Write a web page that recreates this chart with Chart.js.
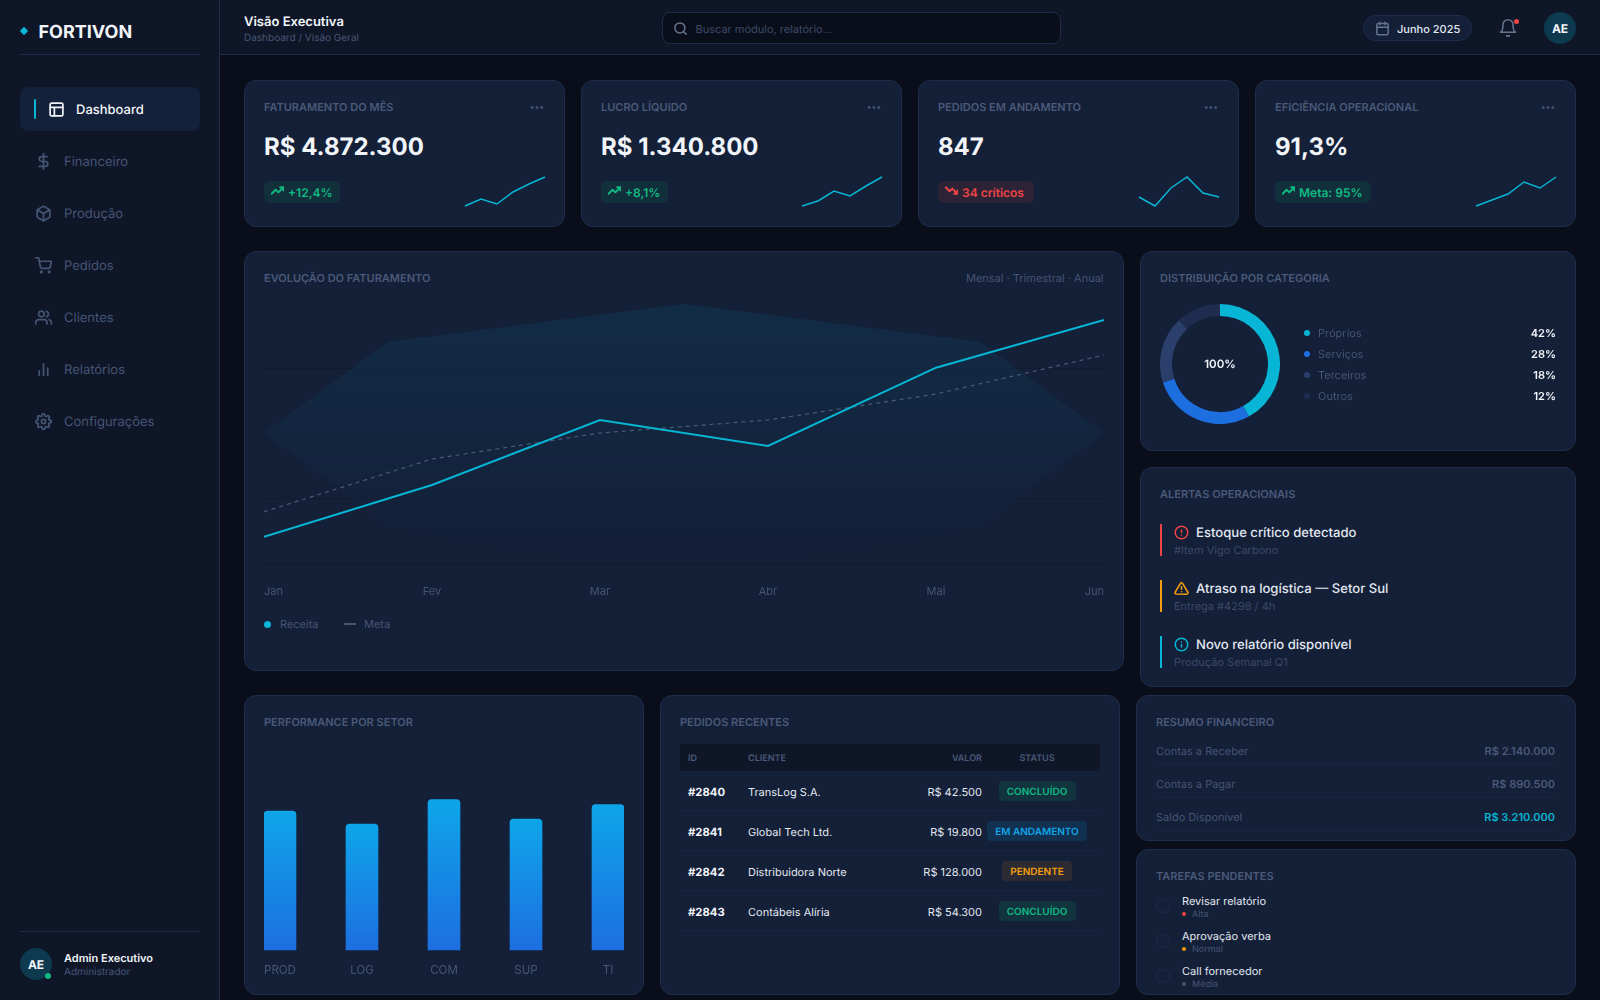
<!DOCTYPE html>
<html lang="pt-BR">
<head>
<meta charset="utf-8">
<title>Fortivon - Visão Executiva</title>
<script src="https://cdn.jsdelivr.net/npm/chart.js@4/dist/chart.umd.js"></script>
<style>
  html, body { margin: 0; width: 1600px; height: 1000px; overflow: hidden; background: #0a0e1a; font-family: Inter, sans-serif; text-rendering: geometricPrecision; }
  #page { position: absolute; left: 0; top: 0; width: 1600px; height: 1000px; overflow: hidden; }
  .box { position: absolute; box-sizing: border-box; }
  .card { background: #141f38; border: 1px solid #1e2d4a; border-radius: 12px; }
  .t { position: absolute; white-space: nowrap; line-height: 1; }
  canvas { position: absolute; display: block; }
  svg { position: absolute; fill: none; stroke-linecap: round; stroke-linejoin: round; }
</style>
</head>
<body>
<div id="page"></div>
<script>
// chart data
const months = ["Jan", "Fev", "Mar", "Abr", "Mai", "Jun"]
const revenue = [526, 1560, 2860, 2340, 3906, 4860]
const target = [1026, 2080, 2600, 2860, 3380, 4160]
const bandX = [0, 0.738, 2.5, 4.262, 5, 4.262, 3.38, 2.5, 1.62, 0.738]
const bandY = [2600, 4426, 5180, 4426, 2600, 760, 240, 20, 240, 760]

const sparkFaturamento = [0, 7, 2, 14, 22, 29]
const sparkLucro = [0, 5, 15, 10, 20, 29]
const sparkPedidos = [9, 0, 18, 29, 13, 9]
const sparkEficiencia = [0, 6, 12, 24, 18, 29]

const donutLabels = ["Próprios", "Serviços", "Terceiros", "Outros"]
const donutValues = [42, 28, 18, 12]
const donutColors = ["#06b6d4", "#1d6fe0", "#2a3f6b", "#1e2d4f"]

const sectors = ["PROD", "LOG", "COM", "SUP", "TI"]
const sectorValues = [85, 77, 92, 80, 89]

const orderIds = ["#2840", "#2841", "#2842", "#2843"]
const orderClients = ["TransLog S.A.", "Global Tech Ltd.", "Distribuidora Norte", "Contábeis Alíria"]
const orderValues = ["R$ 42.500", "R$ 19.800", "R$ 128.000", "R$ 54.300"]
const orderStatus = ["CONCLUÍDO", "EM ANDAMENTO", "PENDENTE", "CONCLUÍDO"]

const CYAN = "#06b6d4", GREEN = "#10b981", RED = "#ef4444", AMBER = "#f59e0b"
const TITLE = "#4a5a78", MUTED = "#455574", FAINT = "#3a4a68", WHITE = "#f1f5f9"

const page = document.getElementById("page")

function box(x, y, w, h, css, cls) {
  const el = document.createElement("div")
  el.className = "box " + (cls || "")
  el.style.cssText = `left:${x}px;top:${y}px;width:${w}px;height:${h}px;${css || ""}`
  page.appendChild(el)
  return el
}

// y is the vertical centre of the text; anchor is l, r or c
function put(x, y, str, css, anchor) {
  const el = document.createElement("span")
  el.className = "t"
  const tx = anchor === "r" ? "-100%" : anchor === "c" ? "-50%" : "0"
  el.style.cssText = `left:${x}px;top:${y}px;transform:translate(${tx},-50%);${css || ""}`
  el.textContent = str
  page.appendChild(el)
  return el
}

function icon(x, y, size, color, body, sw) {
  const ns = "http://www.w3.org/2000/svg"
  const el = document.createElementNS(ns, "svg")
  el.setAttribute("viewBox", "0 0 24 24")
  el.setAttribute("width", size)
  el.setAttribute("height", size)
  el.style.cssText = `left:${x - size / 2}px;top:${y - size / 2}px;stroke:${color};stroke-width:${sw || 2.4}`
  el.innerHTML = body
  page.appendChild(el)
}

function addCanvas(x, y, w, h) {
  const c = document.createElement("canvas")
  c.width = w
  c.height = h
  c.style.cssText = `left:${x}px;top:${y}px;width:${w}px;height:${h}px`
  page.appendChild(c)
  return c
}

const ICONS = {
  layout: '<rect x="3" y="3" width="18" height="18" rx="2"/><path d="M3 9h18M9 21V9"/>',
  dollar: '<path d="M12 1v22M17 5H9.5a3.5 3.5 0 0 0 0 7h5a3.5 3.5 0 0 1 0 7H6"/>',
  box: '<path d="M21 16V8a2 2 0 0 0-1-1.73l-7-4a2 2 0 0 0-2 0l-7 4A2 2 0 0 0 3 8v8a2 2 0 0 0 1 1.73l7 4a2 2 0 0 0 2 0l7-4A2 2 0 0 0 21 16z"/><path d="M3.27 6.96 12 12.01l8.73-5.05M12 22.08V12"/>',
  cart: '<circle cx="9" cy="21" r="1"/><circle cx="20" cy="21" r="1"/><path d="M1 1h4l2.68 13.39a2 2 0 0 0 2 1.61h9.72a2 2 0 0 0 2-1.61L23 6H6"/>',
  users: '<path d="M17 21v-2a4 4 0 0 0-4-4H5a4 4 0 0 0-4 4v2"/><circle cx="9" cy="7" r="4"/><path d="M23 21v-2a4 4 0 0 0-3-3.87M16 3.13a4 4 0 0 1 0 7.75"/>',
  bars: '<path d="M12 20V4M18 20V10M6 20v-6"/>',
  gear: '<circle cx="12" cy="12" r="3"/><path d="M19.4 15a1.65 1.65 0 0 0 .33 1.82l.06.06a2 2 0 0 1 0 2.83 2 2 0 0 1-2.83 0l-.06-.06a1.65 1.65 0 0 0-1.82-.33 1.65 1.65 0 0 0-1 1.51V21a2 2 0 0 1-2 2 2 2 0 0 1-2-2v-.09A1.65 1.65 0 0 0 9 19.4a1.65 1.65 0 0 0-1.82.33l-.06.06a2 2 0 0 1-2.83 0 2 2 0 0 1 0-2.83l.06-.06a1.65 1.65 0 0 0 .33-1.82 1.65 1.65 0 0 0-1.51-1H3a2 2 0 0 1-2-2 2 2 0 0 1 2-2h.09A1.65 1.65 0 0 0 4.6 9a1.65 1.65 0 0 0-.33-1.82l-.06-.06a2 2 0 0 1 0-2.83 2 2 0 0 1 2.83 0l.06.06a1.65 1.65 0 0 0 1.82.33H9a1.65 1.65 0 0 0 1-1.51V3a2 2 0 0 1 2-2 2 2 0 0 1 2 2v.09a1.65 1.65 0 0 0 1 1.51 1.65 1.65 0 0 0 1.82-.33l.06-.06a2 2 0 0 1 2.83 0 2 2 0 0 1 0 2.83l-.06.06a1.65 1.65 0 0 0-.33 1.82V9a1.65 1.65 0 0 0 1.51 1H21a2 2 0 0 1 2 2 2 2 0 0 1-2 2h-.09a1.65 1.65 0 0 0-1.51 1z"/>',
  search: '<circle cx="11" cy="11" r="8"/><path d="M21 21l-4.35-4.35"/>',
  calendar: '<rect x="3" y="4" width="18" height="18" rx="2"/><path d="M16 2v4M8 2v4M3 10h18"/>',
  bell: '<path d="M18 8A6 6 0 0 0 6 8c0 7-3 9-3 9h18s-3-2-3-9M13.73 21a2 2 0 0 1-3.46 0"/>',
  up: '<path d="M23 6l-9.5 9.5-5-5L1 18M17 6h6v6"/>',
  down: '<path d="M23 18l-9.5-9.5-5 5L1 6M17 18h6v-6"/>',
  alert: '<circle cx="12" cy="12" r="10"/><path d="M12 8v4M12 16h.01"/>',
  warn: '<path d="M10.29 3.86 1.82 18a2 2 0 0 0 1.71 3h16.94a2 2 0 0 0 1.71-3L13.71 3.86a2 2 0 0 0-3.42 0z"/><path d="M12 9v4M12 17h.01"/>',
  info: '<circle cx="12" cy="12" r="10"/><path d="M12 16v-4M12 8h.01"/>'
}

// ---- shell: sidebar and top bar
box(0, 0, 220, 1000, "background:#0f1628;border-right:1px solid #1e2d4a")
box(220, 0, 1380, 55, "background:#0f1628;border-bottom:1px solid #1e2d4a")
box(20.5, 28, 6, 6, `background:${CYAN};transform:rotate(45deg);border-radius:1px`)
put(38.5, 32.5, "FORTIVON", `font-size:18px;font-weight:700;color:${WHITE}`)
box(20, 54, 180, 1, "background:#1e2d4a")

box(20, 87, 180, 44, "background:#14213b;border-radius:8px")
box(34, 99, 2, 20, `background:${CYAN};border-radius:1px`)
icon(56, 109, 17, WHITE, ICONS.layout)
put(76, 109.5, "Dashboard", `font-size:13px;font-weight:500;color:${WHITE}`)

const navItems = ["Financeiro", "Produção", "Pedidos", "Clientes", "Relatórios", "Configurações"]
const navIcons = ["dollar", "box", "cart", "users", "bars", "gear"]
navItems.forEach((label, i) => {
  const y = 161 + i * 52
  icon(43.5, y, 17, MUTED, ICONS[navIcons[i]])
  put(64, y + 0.5, label, `font-size:13px;color:${MUTED}`)
})

box(20, 931, 180, 1, "background:#1e2d4a")
box(20, 948, 32, 32, "background:#0e3a50;border-radius:50%")
put(36, 964.5, "AE", `font-size:12px;font-weight:700;color:${WHITE}`, "c")
box(45, 973, 6, 6, `background:${GREEN};border-radius:50%`)
put(64, 957.5, "Admin Executivo", `font-size:11px;font-weight:600;color:${WHITE}`)
put(64, 972, "Administrador", `font-size:10px;color:${MUTED}`)

put(244, 22, "Visão Executiva", `font-size:13px;font-weight:600;color:${WHITE}`)
put(244, 37.5, "Dashboard / Visão Geral", `font-size:10px;color:${MUTED}`)

box(662, 12, 399, 32, "background:#0a0e1a;border:1px solid #1e2d4a;border-radius:8px")
icon(680, 28, 15, "#64748b", ICONS.search)
put(695.5, 28.5, "Buscar módulo, relatório...", `font-size:11px;color:${FAINT}`)

box(1363, 15, 109, 26, "background:#141f38;border:1px solid #1e2d4a;border-radius:13px")
icon(1382, 28, 15, "#64748b", ICONS.calendar)
put(1397, 28.5, "Junho 2025", "font-size:11px;font-weight:500;color:#e2e8f0")
icon(1508, 28, 20, "#64748b", ICONS.bell, 1.8)
box(1513.5, 18.5, 5, 5, `background:${RED};border-radius:50%`)
box(1544, 12, 32, 32, "background:#0e3a50;border-radius:50%")
put(1560, 28.5, "AE", `font-size:12px;font-weight:700;color:${WHITE}`, "c")

const titleCss = `font-size:11px;font-weight:600;color:${TITLE}`

// ---- KPI cards
const kpiTitles = ["FATURAMENTO DO MÊS", "LUCRO LÍQUIDO", "PEDIDOS EM ANDAMENTO", "EFICIÊNCIA OPERACIONAL"]
const kpiValues = ["R$ 4.872.300", "R$ 1.340.800", "847", "91,3%"]
const kpiBadges = ["+12,4%", "+8,1%", "34 críticos", "Meta: 95%"]
const kpiBadgeWidths = [76, 67, 96, 96]
const kpiSparks = [sparkFaturamento, sparkLucro, sparkPedidos, sparkEficiencia]
const sparkCanvases = []

kpiTitles.forEach((title, i) => {
  const x = 244 + i * 337
  const bad = i === 2
  const color = bad ? RED : GREEN
  box(x, 80, 321, 147, "", "card")
  put(x + 20, 107, title, titleCss)
  put(x + 300, 108, "•••", "font-size:8.5px;color:#4a5a78", "r")
  put(x + 20, 147, kpiValues[i], `font-size:24px;font-weight:700;color:${WHITE}`)
  box(x + 20, 181, kpiBadgeWidths[i], 22, `background:${bad ? "#2d2336" : "#12303c"};border-radius:6px`)
  icon(x + 33, 190.5, 13, color, bad ? ICONS.down : ICONS.up, 3.6)
  put(x + 44, 192.5, kpiBadges[i], `font-size:12px;font-weight:600;color:${color}`)
  sparkCanvases.push(addCanvas(x + 217, 172, 88, 38))
})

// ---- revenue panel
box(244, 251, 880, 420, "", "card")
put(264, 278, "EVOLUÇÃO DO FATURAMENTO", titleCss)
put(1103.5, 278, "Mensal · Trimestral · Anual", `font-size:11px;color:${MUTED}`, "r")
box(264, 621, 7, 7, `background:${CYAN};border-radius:50%`)
put(280, 623.5, "Receita", `font-size:11px;color:${MUTED}`)
box(344, 623, 12, 2, "background:#475569")
put(364, 623.5, "Meta", `font-size:11px;color:${MUTED}`)
const lineCanvas = addCanvas(264, 295, 840, 306)

// ---- donut panel
box(1140, 251, 436, 200, "", "card")
put(1160, 278, "DISTRIBUIÇÃO POR CATEGORIA", titleCss)
const donutCanvas = addCanvas(1160, 304, 120, 120)
put(1220, 365, "100%", `font-size:11.5px;font-weight:600;color:${WHITE}`, "c")
donutLabels.forEach((label, i) => {
  const y = 332 + i * 21
  box(1304, y - 2, 6, 6, `background:${donutColors[i]};border-radius:50%`)
  put(1318, y + 0.5, label, `font-size:11px;color:${MUTED}`)
  put(1556, y + 0.5, donutValues[i] + "%", `font-size:11px;font-weight:600;color:${WHITE}`, "r")
})

// ---- alerts
box(1140, 467, 436, 220, "", "card")
put(1160, 494, "ALERTAS OPERACIONAIS", titleCss)
const alertTitles = ["Estoque crítico detectado", "Atraso na logística — Setor Sul", "Novo relatório disponível"]
const alertSubs = ["#Item Vigo Carbono", "Entrega #4298 / 4h", "Produção Semanal Q1"]
const alertColors = [RED, AMBER, CYAN]
const alertIcons = ["alert", "warn", "info"]
alertTitles.forEach((title, i) => {
  const y = 524 + i * 56
  box(1160, y, 2, 32, `background:${alertColors[i]}`)
  icon(1181, y + 8.5, 15, alertColors[i], ICONS[alertIcons[i]])
  put(1196, y + 10, title, "font-size:13.1px;font-weight:500;color:#e2e8f0")
  put(1174, y + 26, alertSubs[i], `font-size:11px;color:${FAINT}`)
})

// ---- sector bars
box(244, 695, 400, 300, "", "card")
put(264, 722, "PERFORMANCE POR SETOR", titleCss)
const barCanvas = addCanvas(264, 780, 360, 200)

// ---- orders table
box(660, 695, 460, 300, "", "card")
put(680, 722, "PEDIDOS RECENTES", titleCss)
box(680, 744, 420, 27, "background:#0f1628")
const headCss = `font-size:9px;font-weight:600;color:${TITLE}`
put(688, 757.5, "ID", headCss)
put(748, 757.5, "CLIENTE", headCss)
put(982, 757.5, "VALOR", headCss, "r")
put(1037, 757.5, "STATUS", headCss, "c")
const statusStyle = {
  "CONCLUÍDO": { bg: "#12343f", fg: GREEN, w: 77 },
  "EM ANDAMENTO": { bg: "#12304f", fg: "#0ea5e9", w: 100 },
  "PENDENTE": { bg: "#2c2b33", fg: AMBER, w: 70 }
}
orderIds.forEach((id, i) => {
  const y = 791 + i * 40
  box(680, y + 19, 420, 1, "background:#1a2640")
  put(688, y + 1.5, id, `font-size:11.3px;font-weight:700;color:${WHITE}`)
  put(748, y + 1, orderClients[i], "font-size:11px;color:#e2e8f0")
  put(982, y + 1, orderValues[i], "font-size:11px;color:#e2e8f0", "r")
  const st = statusStyle[orderStatus[i]]
  box(1037 - st.w / 2, y - 10, st.w, 20, `background:${st.bg};border-radius:4px`)
  put(1037, y + 0.5, orderStatus[i], `font-size:10px;font-weight:600;color:${st.fg}`, "c")
})

// ---- financial summary
box(1136, 695, 440, 146, "", "card")
put(1156, 722, "RESUMO FINANCEIRO", titleCss)
const summaryLabels = ["Contas a Receber", "Contas a Pagar", "Saldo Disponível"]
const summaryValues = ["R$ 2.140.000", "R$ 890.500", "R$ 3.210.000"]
summaryLabels.forEach((label, i) => {
  const y = 751 + i * 33
  put(1156, y - 0.5, label, `font-size:11px;color:${MUTED}`)
  put(1555, y - 0.5, summaryValues[i], `font-size:11px;font-weight:600;color:${i === 2 ? CYAN : "#4a5a78"}`, "r")
  box(1156, y + 13, 399, 1, "background:#1a2640")
})

// ---- tasks
box(1136, 849, 440, 146, "", "card")
put(1156, 876, "TAREFAS PENDENTES", titleCss)
const taskLabels = ["Revisar relatório", "Aprovação verba", "Call fornecedor"]
const taskPriority = ["Alta", "Normal", "Média"]
const taskColors = [RED, AMBER, "#475569"]
taskLabels.forEach((label, i) => {
  const y = 901 + i * 35
  box(1156, y - 2, 14, 14, "border:1px solid #1e2d4a;border-radius:50%")
  put(1182, y - 0.5, label, "font-size:11px;color:#e2e8f0")
  box(1182, y + 11, 4, 4, `background:${taskColors[i]};border-radius:50%`)
  put(1192, y + 12.5, taskPriority[i], `font-size:9px;color:${MUTED}`)
})

// ---- charts
Chart.defaults.animation = false
Chart.defaults.responsive = false
Chart.defaults.font.family = "Inter, sans-serif"
Chart.defaults.plugins.legend.display = false
Chart.defaults.plugins.tooltip.enabled = false

kpiSparks.forEach((values, i) => {
  new Chart(sparkCanvases[i], {
    type: "line",
    data: {
      labels: months,
      datasets: [{ data: values, borderColor: CYAN, borderWidth: 1.5, pointRadius: 0, tension: 0, clip: false }]
    },
    options: {
      layout: { padding: { left: 4, right: 4, top: 4, bottom: 4 } },
      scales: {
        x: { display: false },
        y: { display: false, min: 0, max: 30 }
      }
    }
  })
})

const bandFill = lineCanvas.getContext("2d").createLinearGradient(0, 8, 0, 268)
bandFill.addColorStop(0, "rgba(6, 182, 212, 0.09)")
bandFill.addColorStop(1, "rgba(6, 182, 212, 0)")

new Chart(lineCanvas, {
  type: "line",
  data: {
    labels: months,
    datasets: [
      {
        label: "Receita",
        data: revenue,
        borderColor: CYAN,
        borderWidth: 2,
        pointRadius: 0,
        tension: 0,
        order: 1
      },
      {
        label: "Meta",
        data: target,
        borderColor: "#4a5a78",
        borderWidth: 1.2,
        borderDash: [4, 4],
        pointRadius: 0,
        tension: 0,
        order: 2
      },
      {
        label: "Faixa",
        type: "scatter",
        showLine: true,
        xAxisID: "xBand",
        data: bandX.map((x, i) => ({ x, y: bandY[i] })),
        fill: "shape",
        backgroundColor: bandFill,
        borderWidth: 0,
        pointRadius: 0,
        order: 3
      }
    ]
  },
  options: {
    layout: { padding: { top: 8 } },
    scales: {
      x: {
        grid: { display: false },
        border: { display: false },
        ticks: { color: MUTED, font: { size: 11 }, padding: 14, align: "inner", maxRotation: 0 },
        afterFit(scale) {
          scale.height = 38
          scale.paddingLeft = 0
          scale.paddingRight = 0
        }
      },
      xBand: { type: "linear", display: false, min: 0, max: 5 },
      y: {
        display: true,
        min: 0,
        max: 5200,
        afterFit(scale) {
          scale.width = 0
          scale.paddingTop = 0
          scale.paddingBottom = 0
        },
        ticks: { display: false, stepSize: 1300 },
        grid: {
          drawTicks: false,
          color(ctx) {
            if (ctx.tick.value === 5200) return "rgba(15, 22, 40, 0)"
            if (ctx.tick.value === 2600) return "rgba(15, 22, 40, 0.15)"
            return "rgba(15, 22, 40, 0.55)"
          }
        },
        border: { display: false }
      }
    }
  }
})

new Chart(donutCanvas, {
  type: "doughnut",
  data: {
    labels: donutLabels,
    datasets: [{ data: donutValues, backgroundColor: donutColors, borderWidth: 0 }]
  },
  options: { cutout: "80%", layout: { padding: 0 } }
})

new Chart(barCanvas, {
  type: "bar",
  data: {
    labels: sectors,
    datasets: [{
      data: sectorValues,
      barThickness: 32,
      clip: false,
      borderRadius: { topLeft: 4, topRight: 4 },
      borderSkipped: "bottom",
      backgroundColor(ctx) {
        const { y } = ctx.chart.scales
        const top = y.getPixelForValue(ctx.raw)
        const base = y.getPixelForValue(0)
        // this also runs before the layout has sized the scale
        if (!isFinite(top) || !isFinite(base)) return "#0ea5e9"
        const g = ctx.chart.ctx.createLinearGradient(0, top, 0, base)
        g.addColorStop(0, "#0ea5e9")
        g.addColorStop(1, "#1d6fe0")
        return g
      }
    }]
  },
  options: {
    layout: { padding: { left: 16, right: 16, top: 6.5 } },
    scales: {
      x: {
        offset: false,
        grid: { display: false },
        border: { display: false },
        ticks: { color: MUTED, font: { size: 11.5 }, padding: 6, maxRotation: 0 },
        afterFit(scale) {
          scale.height = 30
          scale.paddingLeft = 0
          scale.paddingRight = 0
        }
      },
      y: { display: false, min: 0, max: 100 }
    }
  }
})
</script>
</body>
</html>
